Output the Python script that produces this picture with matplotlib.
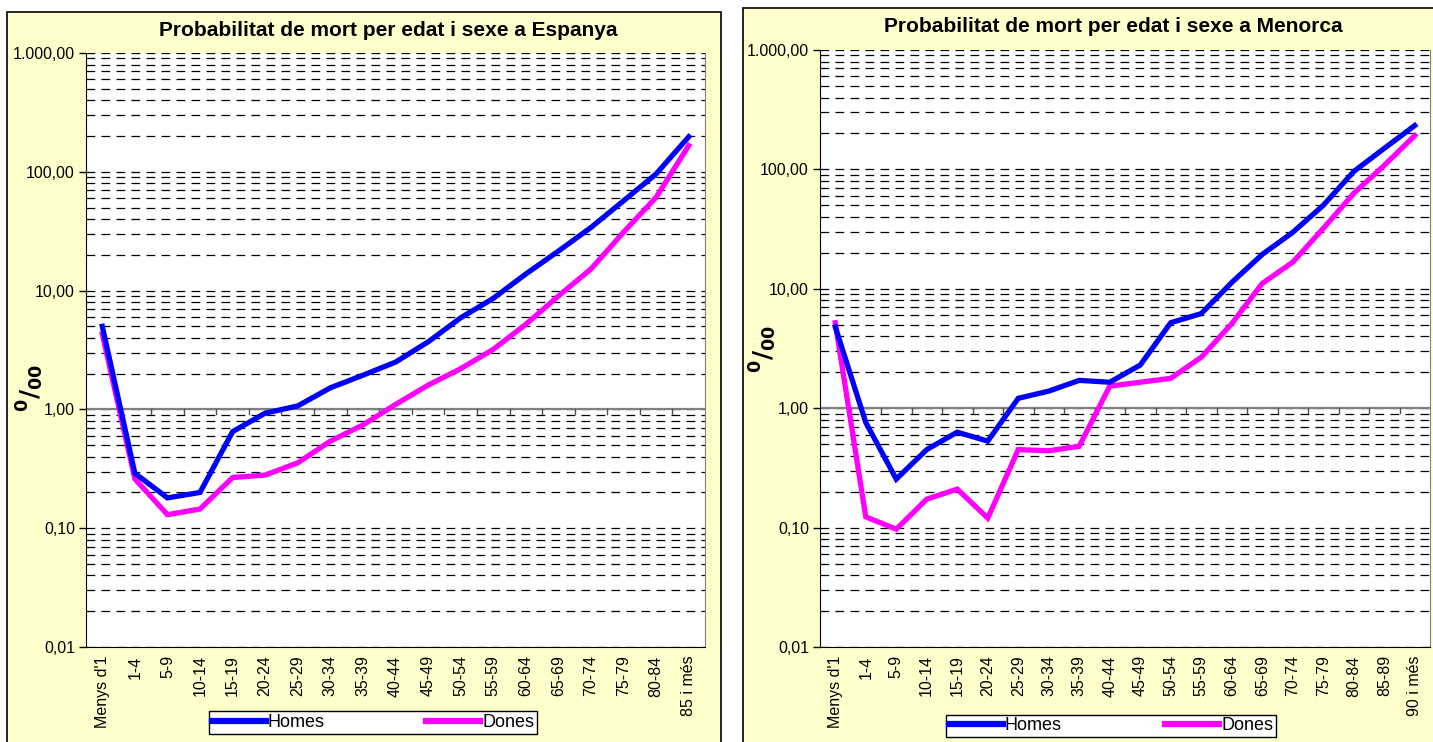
import numpy as np
import matplotlib
matplotlib.use('Agg')
import matplotlib.pyplot as plt
from matplotlib.patches import Rectangle
from matplotlib.ticker import LogLocator, FixedLocator, NullFormatter
from matplotlib.lines import Line2D

plt.rcParams['font.family'] = ['Liberation Sans', 'DejaVu Sans']

# edats
edats_esp = ["Menys d'1", '1-4', '5-9', '10-14', '15-19', '20-24', '25-29', '30-34',
             '35-39', '40-44', '45-49', '50-54', '55-59', '60-64', '65-69', '70-74',
             '75-79', '80-84', '85 i més']
edats_men = ["Menys d'1", '1-4', '5-9', '10-14', '15-19', '20-24', '25-29', '30-34',
             '35-39', '40-44', '45-49', '50-54', '55-59', '60-64', '65-69', '70-74',
             '75-79', '80-84', '85-89', '90 i més']

# probabilitat de mort (per mil)
homes_esp = [5.0, 0.29, 0.18, 0.20, 0.65, 0.93, 1.07, 1.52, 1.94, 2.5, 3.7, 5.9,
             8.6, 13.8, 21.5, 34, 57, 96, 197]
dones_esp = [4.3, 0.26, 0.13, 0.145, 0.267, 0.28, 0.355, 0.54, 0.74, 1.1, 1.6, 2.2,
             3.2, 5.2, 9.0, 15.2, 31, 61, 166]
homes_men = [4.8, 0.76, 0.255, 0.45, 0.63, 0.53, 1.21, 1.39, 1.71, 1.65, 2.3, 5.2,
             6.2, 11.3, 19.4, 29.7, 50, 96, 150, 233]
dones_men = [5.2, 0.123, 0.097, 0.173, 0.21, 0.12, 0.45, 0.44, 0.48, 1.53, 1.65, 1.78,
             2.67, 5.1, 11.1, 16.7, 32, 63, 108, 192]

yticks = [0.01, 0.1, 1, 10, 100, 1000]
ylabels = ['0,01', '0,10', '1,00', '10,00', '100,00', '1.000,00']

W, H = 1433, 742
fig = plt.figure(figsize=(W / 100, H / 100), dpi=100)
fig.patch.set_facecolor('white')


def px(x0, y0, x1, y1):
    # rectangle in pixel coords (top-left origin) -> figure fraction
    return [x0 / W, 1 - y1 / H, (x1 - x0) / W, (y1 - y0) / H]


# fons groc dels gràfics
for (x0, y0, x1, y1) in [(7, 12, 721, 750), (743, 8, 1440, 750)]:
    r = px(x0, y0, x1, y1)
    fig.patches.append(Rectangle((r[0], r[1]), r[2], r[3], transform=fig.transFigure,
                                 facecolor='#FFFFCC', edgecolor='black', lw=1.2, zorder=-5))


def dibuixa(rect, edats, homes, dones, titol, tpos, lpos, legrect):
    ax = fig.add_axes(px(*rect))
    ax.set_zorder(2)
    n = len(edats)
    x = np.arange(n)
    ax.set_facecolor('white')
    ax.set_yscale('log')
    ax.set_ylim(0.01, 1000)
    ax.set_xlim(-0.5, n - 0.5)

    ax.yaxis.set_major_locator(FixedLocator(yticks))
    ax.set_yticklabels(ylabels, fontsize=11.5)
    ax.yaxis.set_minor_locator(LogLocator(base=10, subs=np.arange(2, 10)))
    ax.yaxis.set_minor_formatter(NullFormatter())
    ax.tick_params(axis='y', which='minor', length=0)
    ax.tick_params(axis='y', which='major', length=5, width=1, pad=3)
    ax.grid(True, axis='y', which='both', color='black', lw=0.9, ls=(0, (7, 5)), zorder=1)
    ax.set_axisbelow(True)

    ax.set_xticks(x)
    ax.set_xticklabels(edats, rotation=90, fontsize=11.5)
    ax.tick_params(axis='x', length=0, pad=6)

    # eix de categories que talla a 1,00
    ax.axhline(1, color='#808080', lw=1.6, zorder=2)
    for b in np.arange(0.5, n - 0.5, 1.0):
        ax.plot([b, b], [1, 0.91], color='#505050', lw=1, zorder=2)

    ax.spines['top'].set_visible(False)
    ax.spines['right'].set_color('#808080')
    ax.spines['left'].set_color('black')
    ax.spines['bottom'].set_color('black')

    ax.plot(x, homes, color='#0000FF', lw=3.8, zorder=4, solid_joinstyle='miter')
    ax.plot(x, dones, color='#FF00FF', lw=3.8, zorder=3, solid_joinstyle='miter')

    fig.text(tpos[0] / W, 1 - tpos[1] / H, titol, ha='center', va='center',
             fontsize=15, fontweight='bold')
    fig.text(lpos[0] / W, 1 - lpos[1] / H, r'$\mathbf{^0/_{00}}$', rotation=90,
             ha='center', va='center', fontsize=18)

    handles = [Line2D([], [], color='#0000FF', lw=4.5), Line2D([], [], color='#FF00FF', lw=4.5)]
    leg = fig.legend(handles, ['Homes', 'Dones'], loc='center', ncol=2,
                     bbox_to_anchor=px(*legrect), mode='expand',
                     fontsize=13, frameon=True, fancybox=False, edgecolor='black',
                     framealpha=1, handlelength=3.0, handletextpad=0.1,
                     columnspacing=4, borderpad=0.15)
    leg.get_frame().set_linewidth(1)
    leg.set_zorder(5)
    return ax


dibuixa((86, 53, 705, 647), edats_esp, homes_esp, dones_esp,
        'Probabilitat de mort per edat i sexe a Espanya', (388, 31), (30, 388),
        (200, 710, 546, 735))
dibuixa((820, 50, 1430, 647), edats_men, homes_men, dones_men,
        'Probabilitat de mort per edat i sexe a Menorca', (1113, 27), (763, 349),
        (937, 714, 1285, 738))

fig.savefig('out.png', dpi=100)
